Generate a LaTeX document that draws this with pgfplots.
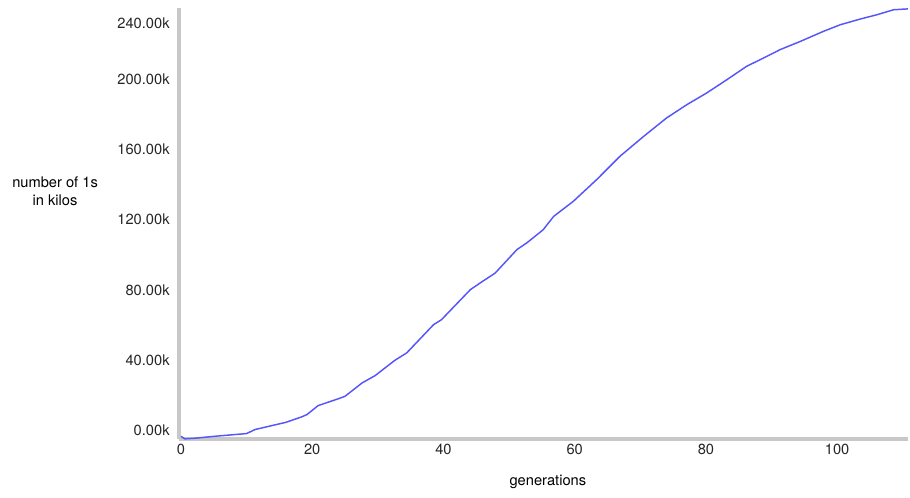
\documentclass[border=0pt]{standalone}
\usepackage{pgfplots}
\pgfplotsset{compat=1.18}
\usepackage{fontspec}
\setmainfont{TeX Gyre Heros}
\definecolor{curve}{RGB}{85,85,250}
\definecolor{axisgray}{RGB}{200,200,200}

\begin{document}
\begin{tikzpicture}
\begin{axis}[
  scale only axis,
  width=546.75pt, height=323.25pt,
  xmin=-0.3, xmax=110.8,
  ymin=-0.8, ymax=244.5,
  axis lines=left,
  axis line style={-, draw=axisgray, line width=2.4pt},
  every outer x axis line/.append style={-, draw=axisgray, line width=2.4pt},
  every outer y axis line/.append style={-, draw=axisgray, line width=2.4pt},
  major tick length=0pt,
  xtick={0,20,...,100},
  ytick={0,40,...,200},
  extra y ticks={240},
  extra y tick style={yticklabel style={yshift=-10.5pt}},
  yticklabel style={yshift=5.25pt, xshift=-3.5pt},
  xticklabel style={yshift=0pt},
  /pgf/number format/assume math mode=true,
  yticklabel={\pgfmathprintnumber[fixed,fixed zerofill,precision=2]{\tick}k},
  tick label style={font=\fontsize{11}{13}\selectfont, text=black!85},
  xlabel={generations},
  xlabel style={at={(rel axis cs:0.506,-0.0998)}, anchor=center, font=\fontsize{11}{13}\selectfont},
  ylabel={number of 1s\\in kilos},
  ylabel style={rotate=-90, align=center, at={(rel axis cs:-0.170,0.575)}, anchor=center, font=\fontsize{11}{13}\selectfont},
  clip=false,
]
\addplot[curve, line width=1.1pt, line join=round] coordinates {
(0,0.7) (0.6,-0.7) (2,-0.4) (5,0.7) (10,2.3) (11.3,4.6) (16,8.7) (18.4,11.8)
(19.2,13.1) (20.9,18.2) (23.9,22.0) (25,23.5) (27.6,31.1) (29.6,35.3) (32.6,44)
(34.4,48.2) (38.5,64.3) (39.7,67.1) (44.1,84.2) (45.6,88.0) (47.9,93.7)
(51.2,107.0) (52.7,110.8) (55.2,118.3) (56.8,125.9) (59.8,134.5) (63.4,147)
(66.9,160.1) (70.5,171.4) (74,181.9) (77.1,189.5) (80.1,196.1) (83.2,203.7)
(86.2,211.3) (89.3,217.0) (91.3,220.8) (94.4,225.5) (97.9,231.2) (100.5,235.0)
(103.5,238.2) (106.1,240.7) (108.6,243.5) (110.8,244)
};
\end{axis}
\pgfresetboundingbox
\useasboundingbox (current axis.south west) ++(-134.25pt,-43.5pt) rectangle ++(682.5pt,372.75pt);
\end{tikzpicture}
\end{document}
